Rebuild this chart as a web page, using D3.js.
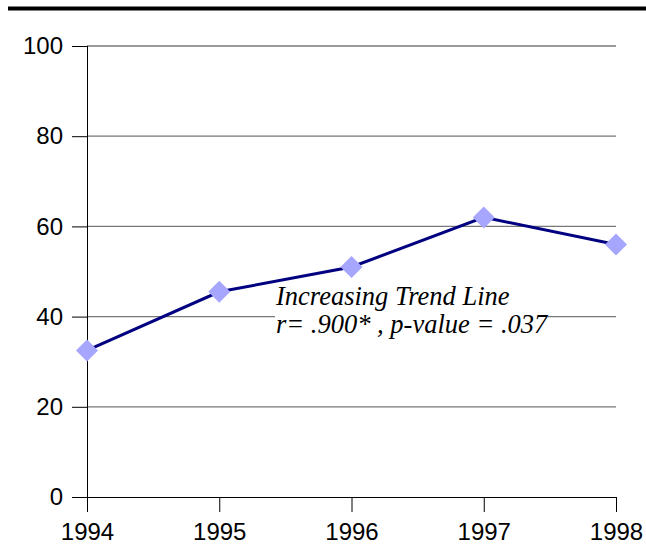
<!DOCTYPE html>
<html>
<head>
<meta charset="utf-8">
<script src="https://cdn.jsdelivr.net/npm/d3@7"></script>
<style>
  body { margin: 0; background: #fff; }
  svg { display: block; }
</style>
</head>
<body>
<svg width="646" height="550"></svg>
<script>
const years = ['1994', '1995', '1996', '1997', '1998'];
const values = [32.5, 45.5, 51, 62, 56];
const yTicks = [0, 20, 40, 60, 80, 100];
const noteLines = ['Increasing Trend Line', 'r= .900* , p-value = .037'];

const svg = d3.select('svg');
const margin = { top: 46, right: 30, bottom: 53, left: 87 };
const width = 646, height = 550;
const innerWidth = 616 - margin.left;
const innerHeight = height - margin.top - margin.bottom;

// rule across the top
svg.append('line')
  .attr('x1', 8).attr('x2', 646)
  .attr('y1', 8.5).attr('y2', 8.5)
  .attr('stroke', '#000')
  .attr('stroke-width', 4);

const g = svg.append('g')
  .attr('transform', `translate(${margin.left},${margin.top})`);

const x = d3.scalePoint().domain(years).range([0, innerWidth]);
const y = d3.scaleLinear().domain([0, 100]).range([innerHeight, 0]);

// y axis with gridlines
const yAxisG = g.append('g')
  .call(d3.axisLeft(y).tickValues(yTicks).tickSize(15).tickPadding(9))
  .call(a => a.select('.domain').remove());
yAxisG.selectAll('text')
  .attr('font-family', 'Liberation Sans, Arial, sans-serif')
  .attr('font-size', 24)
  .attr('fill', '#000');
yAxisG.selectAll('line').attr('stroke', '#000');

g.append('g')
  .selectAll('line')
  .data(yTicks.filter(d => d > 0))
  .join('line')
  .attr('x1', 0).attr('x2', innerWidth)
  .attr('y1', d => y(d)).attr('y2', d => y(d))
  .attr('stroke', '#777')
  .attr('stroke-width', 1.3);

// x axis
const xAxisG = g.append('g')
  .attr('transform', `translate(0,${innerHeight})`)
  .call(d3.axisBottom(x).tickSize(15).tickPadding(11));
xAxisG.select('.domain')
  .attr('d', `M${-15},0.5H${innerWidth}`)
  .attr('stroke', '#000');
xAxisG.selectAll('line').attr('stroke', '#000');
xAxisG.selectAll('text')
  .attr('font-family', 'Liberation Sans, Arial, sans-serif')
  .attr('font-size', 24)
  .attr('fill', '#000');

// y axis line
g.append('line')
  .attr('x1', 0.5).attr('x2', 0.5)
  .attr('y1', 0).attr('y2', innerHeight + 15)
  .attr('stroke', '#000');

// annotation box
const note = g.append('g').attr('transform', `translate(${275 - margin.left},${284 - margin.top})`);
note.append('rect')
  .attr('width', 273).attr('height', 58)
  .attr('fill', '#fff');
note.selectAll('text')
  .data(noteLines)
  .join('text')
  .attr('x', 1)
  .attr('y', (d, i) => 21 + i * 28)
  .attr('font-family', 'Liberation Serif, Times New Roman, serif')
  .attr('font-style', 'italic')
  .attr('font-size', 26.5)
  .attr('fill', '#000')
  .text(d => d);

// series line
const data = years.map((yr, i) => ({ year: yr, value: values[i] }));
g.append('path')
  .datum(data)
  .attr('fill', 'none')
  .attr('stroke', '#000080')
  .attr('stroke-width', 3)
  .attr('d', d3.line().x(d => x(d.year)).y(d => y(d.value)));

g.selectAll('.marker')
  .data(data)
  .join('path')
  .attr('class', 'marker')
  .attr('transform', d => `translate(${x(d.year)},${y(d.value)})`)
  .attr('d', 'M0,-11L11,0L0,11L-11,0Z')
  .attr('fill', '#a6a6ff');
</script>
</body>
</html>
